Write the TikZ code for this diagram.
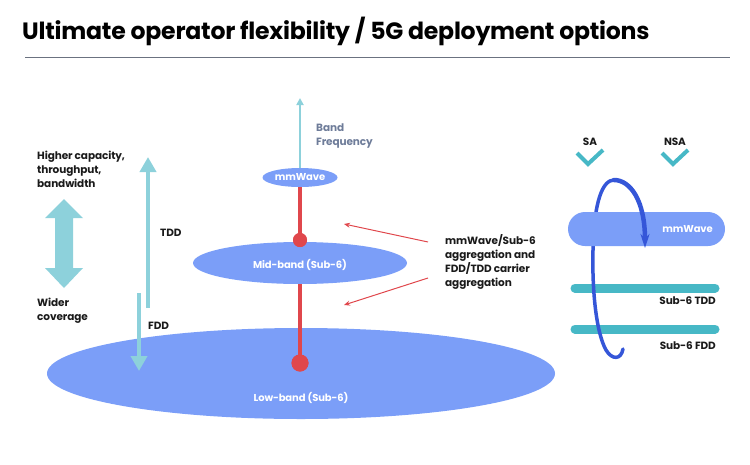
\documentclass[tikz,border=0pt]{standalone}
\usepackage{fontspec}
\setmainfont{Poppins}[LetterSpace=-1]
\usetikzlibrary{arrows.meta,shapes.geometric}
\definecolor{periw}{HTML}{7B9EF8}
\definecolor{lteal}{HTML}{8DD1DB}
\definecolor{redc}{HTML}{E0474C}
\definecolor{tealc}{HTML}{47B8C6}
\definecolor{dblue}{HTML}{3556D8}
\definecolor{grayblue}{HTML}{6E7C99}
\definecolor{txt}{HTML}{1A1A1A}
\definecolor{rule}{HTML}{6B7280}
\tikzset{
  body/.style={font=\fontsize{10.5}{14}\selectfont\bfseries, text=txt, inner sep=0pt, align=left},
  wtxt/.style={font=\fontsize{10}{12}\selectfont\bfseries, text=white, inner sep=0pt},
  band/.style={ellipse, fill=periw, inner sep=0pt},
  rdot/.style={circle, fill=redc, inner sep=0pt},
  bigarrow/.style={line width=4pt, draw=lteal, -{Triangle[length=15pt,width=16pt]}},
  redarrow/.style={draw=redc, line width=1pt, -{Stealth[length=6pt,width=5pt]}},
  subbar/.style={draw=tealc, line width=9pt, line cap=round},
}
\begin{document}
\begin{tikzpicture}[x=1pt,y=-1pt]
\useasboundingbox (0,0) rectangle (750,464);
% title
\node[anchor=base west, inner sep=0pt, text=black, font=\fontsize{23.6}{28}\selectfont\bfseries] (title) at (22,39) {Ultimate operator flexibility / 5G deployment options};
\coordinate (r1) at (25,57);
\coordinate (r2) at (730,57);
\draw[rule, line width=1pt] (r1) -- (r2);

% left side
\node[body, anchor=north west] (hc) at (37,151) {Higher capacity,\\throughput,\\bandwidth};
\fill[lteal] (64,199) -- (83,218) -- (73,218) -- (73,268) -- (83,268) -- (64,288) -- (45,268) -- (55,268) -- (55,218) -- (45,218) -- cycle;
\node[body, anchor=north west] (wc) at (37,298) {Wider\\coverage};

\coordinate (tddS) at (148,308);
\coordinate (tddE) at (148,157);
\draw[bigarrow] (tddS) -- (tddE);
\coordinate (fddS) at (139,293);
\coordinate (fddE) at (139,371);
\node[body, anchor=west] (tdd) at (160,233) {TDD};

% bands
\node[band, minimum width=508pt, minimum height=91pt] (low) at (301,373.5) {};
\node[wtxt] (lowt) at (301,398) {Low-band (Sub-6)};
\draw[bigarrow] (fddS) -- (fddE);
\node[body, anchor=west] (fdd) at (148,326) {FDD};

\node[band, minimum width=214pt, minimum height=42pt] (mid) at (300,263) {};
\node[wtxt] (midt) at (300,265) {Mid-band (Sub-6)};
\node[band, minimum width=75pt, minimum height=19pt] (mm) at (300,177.5) {};
\node[wtxt] (mmt) at (300,177.5) {mmWave};

\coordinate (bfE) at (300,98);
\draw[lteal, line width=2pt, -{Triangle[length=7pt,width=7pt]}] (mm.north) -- (bfE);
\node[body, anchor=north west, text=grayblue] (bf) at (316,124) {Band\\Frequency};

\node[rdot, minimum size=14pt] (d1) at (300,240) {};
\node[rdot, minimum size=17pt] (d2) at (300,363) {};
\draw[redc, line width=4pt] (mm.south) -- (d1.center);
\draw[redc, line width=4pt] (mid.south) -- (d2.center);
\node[rdot, minimum size=14pt] at (d1) {};
\node[rdot, minimum size=17pt] at (d2) {};

% red arrows
\node[body, anchor=north west] (agg) at (445,234) {mmWave/Sub-6\\aggregation and\\FDD/TDD carrier\\aggregation};
\coordinate (a1s) at (428,242);
\coordinate (a1e) at (344,224);
\coordinate (a2s) at (428,278);
\coordinate (a2e) at (344,305);
\draw[redarrow] (a1s) -- (a1e);
\draw[redarrow] (a2s) -- (a2e);

% right side
\node[body, anchor=base] (sa) at (590,145) {SA};
\node[body, anchor=base] (nsa) at (675,145) {NSA};
\draw[tealc, line width=4pt] (577,153) -- (588,164) -- (603,150);
\draw[tealc, line width=4pt] (662,153) -- (673,164) -- (688,150);

\coordinate (t1) at (575,288);
\coordinate (t2) at (715,288);
\coordinate (f1) at (575,329);
\coordinate (f2) at (715,329);
\draw[subbar] (t1) -- (t2);
\draw[subbar] (f1) -- (f2);
\node[body, anchor=base east] (tddl) at (716,304) {Sub-6 TDD};
\node[body, anchor=base east] (fddl) at (716,349) {Sub-6 FDD};

\coordinate (peak) at (614,180);
\coordinate (arcS) at (623,349);
\coordinate (arcE) at (645,248);
\draw[dblue, line width=3.5pt, line cap=round] (arcS) .. controls (621,360) and (612,360) .. (606,350) .. controls (596,332) and (592,290) .. (593,250) .. controls (594,200) and (603,180) .. (peak);
\node[fill=periw, rounded corners=17pt, minimum width=157pt, minimum height=34pt, inner sep=0pt] (mmbar) at (646.5,229) {};
\node[wtxt, anchor=east] (mmbt) at (713,229) {mmWave};
\draw[dblue, line width=4.5pt, line cap=round, -{Stealth[length=14pt,width=9pt]}] (peak) .. controls (630,180) and (645,200) .. (arcE);
\end{tikzpicture}
\end{document}
